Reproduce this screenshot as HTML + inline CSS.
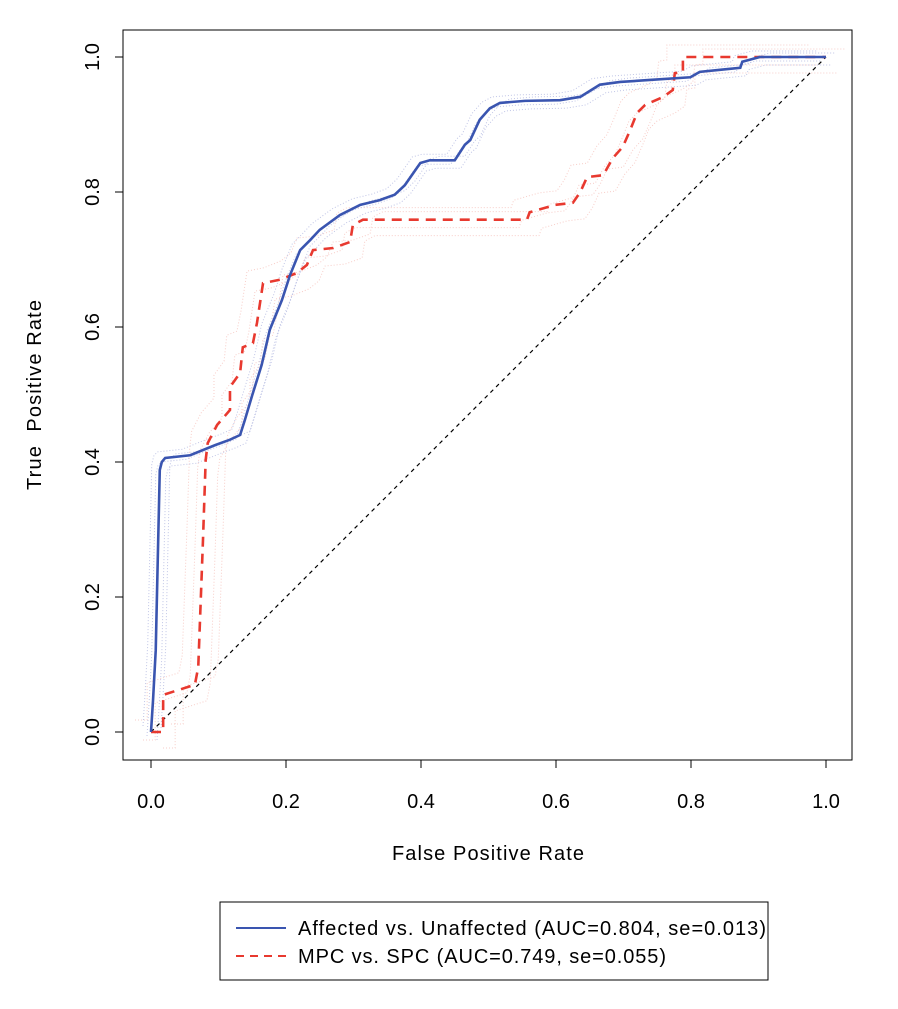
<!DOCTYPE html>
<html><head><meta charset="utf-8"><style>
body{margin:0;background:#fff;}
svg text{font-family:"Liberation Sans",Arial,sans-serif;fill:#000;}
</style></head><body>
<svg width="898" height="1004" viewBox="0 0 898 1004">
<rect x="123" y="30" width="729" height="730" fill="none" stroke="#000" stroke-width="1"/>
<g id="axes"></g>
<g id="marks"></g>
<text x="488" y="860" font-size="20" text-anchor="middle" textLength="192">False Positive Rate</text>
<text transform="translate(41,395) rotate(-90)" font-size="20" text-anchor="middle" textLength="190" xml:space="preserve">True  Positive Rate</text>
<g>
<rect x="220" y="902" width="548" height="78" fill="#fff" stroke="#000" stroke-width="1"/>
<line x1="236" y1="928" x2="286" y2="928" stroke="#3a55b0" stroke-width="2"/>
<text x="298" y="935" font-size="20" textLength="468">Affected vs. Unaffected (AUC=0.804, se=0.013)</text>
<line x1="236" y1="956" x2="286" y2="956" stroke="#e8392f" stroke-width="2" stroke-dasharray="8,6"/>
<text x="298" y="963" font-size="20" textLength="368">MPC vs. SPC (AUC=0.749, se=0.055)</text>
</g>
</svg>
<script>
const xTicks=[0,0.2,0.4,0.6,0.8,1.0];
const yTicks=[0,0.2,0.4,0.6,0.8,1.0];
const blueFpr=[0,.003,.007,.010,.013,.016,.021,.058,.095,.117,.132,.139,.150,.164,.176,.194,.206,.221,.236,.250,.280,.310,.339,.361,.376,.399,.413,.450,.465,.473,.487,.502,.517,.554,.606,.636,.665,.695,.739,.799,.813,.843,.873,.876,.902,1];
const blueTpr=[0,.047,.121,.255,.388,.400,.406,.410,.425,.433,.440,.462,.499,.544,.596,.640,.677,.714,.729,.744,.766,.781,.788,.796,.810,.843,.847,.847,.870,.877,.907,.924,.932,.935,.936,.941,.959,.963,.966,.970,.978,.981,.984,.993,1,1];
const redFpr=[0,.018,.018,.040,.065,.070,.077,.081,.084,.098,.117,.117,.132,.136,.151,.157,.166,.191,.216,.231,.240,.270,.295,.299,.314,.557,.561,.599,.625,.636,.646,.670,.684,.699,.710,.720,.732,.759,.773,.776,.788,.788,1];
const redTpr=[0,0,.055,.062,.070,.096,.284,.403,.428,.455,.477,.511,.532,.570,.576,.606,.665,.670,.680,.692,.714,.717,.726,.751,.759,.759,.770,.781,.784,.800,.822,.825,.850,.867,.892,.917,.929,.941,.951,.976,.978,1,1];
const NS='http://www.w3.org/2000/svg';
const sx=v=>151+v*675, sy=v=>732-v*675;
const axes=document.getElementById('axes'), marks=document.getElementById('marks');
function mk(tag,attrs,parent){const e=document.createElementNS(NS,tag);for(const k in attrs)e.setAttribute(k,attrs[k]);parent.appendChild(e);return e;}
mk('line',{x1:sx(0),x2:sx(1),y1:760,y2:760,stroke:'#000'},axes);
xTicks.forEach(t=>{
  const l=mk('line',{x1:sx(t),x2:sx(t),y1:760,y2:768,stroke:'#000'},axes);
  
  
  const tx=mk('text',{x:sx(t),y:808,'font-size':20,'text-anchor':'middle'},axes);
  tx.textContent=t.toFixed(1);
  
  
});
mk('line',{x1:123,x2:123,y1:sy(0),y2:sy(1),stroke:'#000'},axes);
yTicks.forEach(t=>{
  const l=mk('line',{x1:115,x2:123,y1:sy(t),y2:sy(t),stroke:'#000'},axes);
  
  
  const tx=mk('text',{transform:`translate(99,${sy(t)}) rotate(-90)`,'font-size':20,'text-anchor':'middle'},axes);
  tx.textContent=t.toFixed(1);
  
  
});
function pts(xs,ys,dx,dy){return xs.map((x,i)=>`${sx(x)+dx},${sy(ys[i])+dy}`).join(' ');}
[[-8,-6],[6,8],[-4,4],[10,-4]].forEach(([dx,dy])=>{
  const r=mk('polyline',{points:pts(redFpr,redTpr,dx*2,dy*2),fill:'none',stroke:'#f4b8b0',"stroke-width":1,"stroke-dasharray":'1,2',opacity:0.7},marks);
  
  
  const b=mk('polyline',{points:pts(blueFpr,blueTpr,dx,dy),fill:'none',stroke:'#b0b6e0',"stroke-width":1,"stroke-dasharray":'1,2',opacity:0.8},marks);
  
  
});
const diag=mk('line',{x1:sx(0),y1:sy(0),x2:sx(1),y2:sy(1),stroke:'#000',"stroke-width":1.2,"stroke-dasharray":'4,4'},marks);


const red=mk('polyline',{points:pts(redFpr,redTpr,0,0),fill:'none',stroke:'#e8392f',"stroke-width":2.6,"stroke-dasharray":'10,7'},marks);


const blue=mk('polyline',{points:pts(blueFpr,blueTpr,0,0),fill:'none',stroke:'#3a55b0',"stroke-width":2.6},marks);


</script>
</body></html>
